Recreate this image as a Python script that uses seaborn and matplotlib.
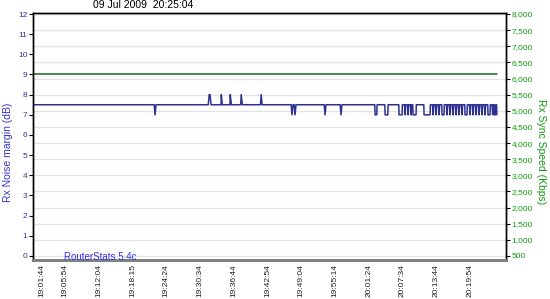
import matplotlib
matplotlib.use("Agg")
import matplotlib.pyplot as plt
import seaborn as sns
import pandas as pd
from matplotlib.ticker import FixedLocator, FuncFormatter

# ---------------- data ----------------
title_text = "09 Jul 2009  20:25:04"
watermark = "RouterStats 5.4c"

x_tick_labels = ["19:01:44", "19:05:54", "19:12:04", "19:18:15", "19:24:24",
                 "19:30:34", "19:36:44", "19:42:54", "19:49:04", "19:55:14",
                 "20:01:24", "20:07:34", "20:13:44", "20:19:54"]

# breakpoints of the noise-margin trace, seconds after 19:00:00
noise_times = [
    4, 1332, 1342, 1352,
    1925, 1935, 1945, 1955,
    2065, 2068, 2078,
    2162, 2166, 2178,
    2280, 2286, 2298,
    2497, 2505, 2515,
    2833, 2843, 2853, 2866, 2876, 2886,
    3195, 3205, 3215,
    3370, 3380, 3390,
    3750, 3753, 3772, 3775,
    3860, 3863, 3893, 3896,
    4013, 4016, 4049, 4052,
    4075, 4082, 4089,
    4108, 4115, 4122,
    4141, 4148, 4155,
    4166, 4169, 4202, 4205,
    4287, 4290, 4356, 4359,
    4382, 4389, 4396,
    4414, 4421, 4428,
    4447, 4454, 4461,
    4484, 4487, 4509, 4512,
    4535, 4542, 4549,
    4568, 4575, 4582,
    4601, 4608, 4615,
    4634, 4641, 4648,
    4666, 4673, 4680,
    4699, 4706, 4713,
    4736, 4739, 4761, 4764,
    4787, 4794, 4801,
    4820, 4827, 4834,
    4853, 4860, 4867,
    4886, 4893, 4900,
    4918, 4925, 4932,
    4951, 4958, 4965,
    4988, 4991, 5013, 5016,
    5035, 5042, 5049,
    5058, 5061, 5072, 5075,
    5085, 5088,
]
noise_db = [
    7.5, 7.5, 7.0, 7.5,
    7.5, 8.0, 8.0, 7.5,
    7.5, 8.0, 7.5,
    7.5, 8.0, 7.5,
    7.5, 8.0, 7.5,
    7.5, 8.0, 7.5,
    7.5, 7.0, 7.5, 7.5, 7.0, 7.5,
    7.5, 7.0, 7.5,
    7.5, 7.0, 7.5,
    7.5, 7.0, 7.0, 7.5,
    7.5, 7.0, 7.0, 7.5,
    7.5, 7.0, 7.0, 7.5,
    7.5, 7.0, 7.5,
    7.5, 7.0, 7.5,
    7.5, 7.0, 7.5,
    7.5, 7.0, 7.0, 7.5,
    7.5, 7.0, 7.0, 7.5,
    7.5, 7.0, 7.5,
    7.5, 7.0, 7.5,
    7.5, 7.0, 7.5,
    7.5, 7.0, 7.0, 7.5,
    7.5, 7.0, 7.5,
    7.5, 7.0, 7.5,
    7.5, 7.0, 7.5,
    7.5, 7.0, 7.5,
    7.5, 7.0, 7.5,
    7.5, 7.0, 7.5,
    7.5, 7.0, 7.0, 7.5,
    7.5, 7.0, 7.5,
    7.5, 7.0, 7.5,
    7.5, 7.0, 7.5,
    7.5, 7.0, 7.5,
    7.5, 7.0, 7.5,
    7.5, 7.0, 7.5,
    7.5, 7.0, 7.0, 7.5,
    7.5, 7.0, 7.5,
    7.5, 7.0, 7.0, 7.5,
    7.5, 7.0,
]
assert len(noise_times) == len(noise_db)

sync_times = [4, 5088]
sync_kbps = [6144, 6144]

left_ticks = list(range(0, 13))
right_ticks = list(range(500, 8001, 500))


def to_sec(s):
    h, m, sec = (int(v) for v in s.split(":"))
    return (h - 19) * 3600 + m * 60 + sec


x_tick_pos = [to_sec(s) for s in x_tick_labels]

noise_df = pd.DataFrame({"t": noise_times, "db": noise_db})
sync_df = pd.DataFrame({"t": sync_times, "kbps": sync_kbps})

# ---------------- style ----------------
sns.set_theme(style="white")
plt.rcParams["font.family"] = ["Liberation Sans", "DejaVu Sans"]

W, H = 550, 299
fig = plt.figure(figsize=(W / 100, H / 100), dpi=100)
ax = fig.add_axes([33 / W, 1 - 260 / H, (506 - 33) / W, (260 - 13) / H])
ax2 = ax.twinx()

left_col = "#333399"
right_col = "#119911"
line_col = "#2e3192"
grid_col = "#e4e4e4"

sns.lineplot(data=sync_df, x="t", y="kbps", ax=ax2, color="#1a6b1a",
             linewidth=1.1, sort=False, estimator=None)
sns.lineplot(data=noise_df, x="t", y="db", ax=ax, color=line_col,
             linewidth=1.1, sort=False, estimator=None)

ax.set_zorder(ax2.get_zorder() + 1)
ax.patch.set_visible(False)
ax2.patch.set_facecolor("white")

xlim = (4, 5188)
ax.set_xlim(*xlim)
ax2.set_xlim(*xlim)
ax.set_ylim(-0.2, 12.05)
ax2.set_ylim(500 + 625 * -0.2, 500 + 625 * 12.05)

ax.xaxis.set_major_locator(FixedLocator(x_tick_pos))
ax.set_xticklabels(x_tick_labels, rotation=90, fontsize=6, color="#222222")
ax.set_yticks(left_ticks)
ax.set_yticklabels([str(v) for v in left_ticks], fontsize=6, color=left_col)
ax2.set_yticks(right_ticks)
ax2.yaxis.set_major_formatter(FuncFormatter(lambda v, p: f"{int(v):,}"))
ax2.tick_params(axis="y", labelsize=6, labelcolor=right_col, length=3,
                width=0.8, color="black", direction="out", pad=1)
ax.tick_params(axis="y", length=3, width=0.8, color="black", direction="out",
               pad=1, left=True)
ax.tick_params(axis="x", length=0, pad=3)
ax2.tick_params(axis="x", length=0)

ax.set_xlabel("")
ax.set_ylabel("")
ax2.set_ylabel("")
ax2.set_xlabel("")

# grid lives on the lower (right) axes so every trace sits above it
ax2.set_axisbelow(True)
ax2.yaxis.grid(True, color=grid_col, linewidth=1)
ax2.xaxis.grid(True, color=grid_col, linewidth=1)
ax.xaxis.grid(False)
ax.yaxis.grid(False)

for a in (ax, ax2):
    for name, sp in a.spines.items():
        sp.set_visible(True)
        sp.set_color("black")
        sp.set_linewidth(1)
    a.spines["bottom"].set_color("#808080")
    a.spines["bottom"].set_linewidth(2)

fig.text(143 / W, 1 - 5 / H, title_text, ha="center", va="center",
         fontsize=7.5, color="black")
fig.text(8 / W, 1 - 152 / H, "Rx Noise margin (dB)", rotation=90,
         ha="center", va="center", fontsize=7.5, color="#3333cc")
fig.text(541 / W, 1 - 152 / H, "Rx Sync Speed (Kbps)", rotation=-90,
         ha="center", va="center", fontsize=7.5, color="#119911")
fig.text(64 / W, 1 - 257 / H, watermark, ha="left", va="center",
         fontsize=7, color="#3333ee")

fig.savefig("out.png", dpi=100)
